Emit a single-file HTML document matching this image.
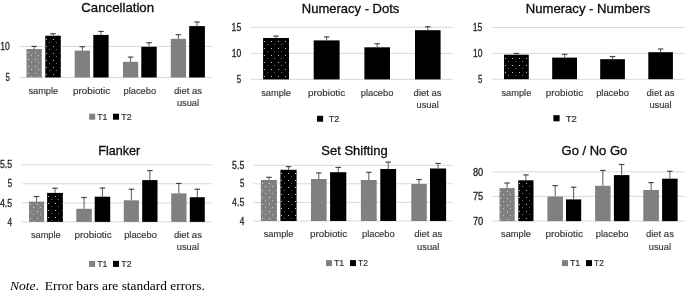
<!DOCTYPE html>
<html><head><meta charset="utf-8"><style>
html,body{margin:0;padding:0;background:#fff;}
body{width:685px;height:294px;overflow:hidden;font-family:"Liberation Sans",sans-serif;}
svg{display:block;will-change:transform;}
</style></head><body>
<svg width="685" height="294" viewBox="0 0 685 294">
<defs><pattern id="p1" patternUnits="userSpaceOnUse" width="7" height="7" x="28" y="52"><rect x="0" y="0" width="1" height="1" fill="#fff" fill-opacity="0.7"/><rect x="3" y="3" width="1" height="1" fill="#fff" fill-opacity="0.55"/></pattern><pattern id="p2" patternUnits="userSpaceOnUse" width="7" height="7" x="46" y="39"><rect x="0" y="0" width="1" height="1" fill="#fff" fill-opacity="0.75"/><rect x="3" y="3" width="1" height="1" fill="#fff" fill-opacity="0.4"/></pattern><pattern id="p3" patternUnits="userSpaceOnUse" width="7" height="7" x="264" y="41"><rect x="0" y="0" width="1" height="1" fill="#fff" fill-opacity="0.75"/><rect x="3" y="3" width="1" height="1" fill="#fff" fill-opacity="0.4"/></pattern><pattern id="p4" patternUnits="userSpaceOnUse" width="7" height="7" x="505" y="58"><rect x="0" y="0" width="1" height="1" fill="#fff" fill-opacity="0.75"/><rect x="3" y="3" width="1" height="1" fill="#fff" fill-opacity="0.4"/></pattern><pattern id="p5" patternUnits="userSpaceOnUse" width="7" height="7" x="30" y="204"><rect x="0" y="0" width="1" height="1" fill="#fff" fill-opacity="0.7"/><rect x="3" y="3" width="1" height="1" fill="#fff" fill-opacity="0.55"/></pattern><pattern id="p6" patternUnits="userSpaceOnUse" width="7" height="7" x="48" y="196"><rect x="0" y="0" width="1" height="1" fill="#fff" fill-opacity="0.75"/><rect x="3" y="3" width="1" height="1" fill="#fff" fill-opacity="0.4"/></pattern><pattern id="p7" patternUnits="userSpaceOnUse" width="7" height="7" x="262" y="183"><rect x="0" y="0" width="1" height="1" fill="#fff" fill-opacity="0.7"/><rect x="3" y="3" width="1" height="1" fill="#fff" fill-opacity="0.55"/></pattern><pattern id="p8" patternUnits="userSpaceOnUse" width="7" height="7" x="281" y="173"><rect x="0" y="0" width="1" height="1" fill="#fff" fill-opacity="0.75"/><rect x="3" y="3" width="1" height="1" fill="#fff" fill-opacity="0.4"/></pattern><pattern id="p9" patternUnits="userSpaceOnUse" width="7" height="7" x="500" y="191"><rect x="0" y="0" width="1" height="1" fill="#fff" fill-opacity="0.7"/><rect x="3" y="3" width="1" height="1" fill="#fff" fill-opacity="0.55"/></pattern><pattern id="p10" patternUnits="userSpaceOnUse" width="7" height="7" x="519" y="183"><rect x="0" y="0" width="1" height="1" fill="#fff" fill-opacity="0.75"/><rect x="3" y="3" width="1" height="1" fill="#fff" fill-opacity="0.4"/></pattern></defs>
<text x="117.7" y="12.2" font-size="12.4" text-anchor="middle" fill="#0d0d0d" font-family="Liberation Sans" textLength="72.8" lengthAdjust="spacingAndGlyphs" stroke="#0d0d0d" stroke-width="0.3">Cancellation</text>
<rect x="19.3" y="45.95" width="192.7" height="1" fill="#d9d9d9"/>
<text x="9.8" y="50.050000000000004" font-size="10.1" text-anchor="end" fill="#262626" font-family="Liberation Sans" textLength="9.5" lengthAdjust="spacingAndGlyphs" stroke="#262626" stroke-width="0.3">10</text>
<rect x="19.3" y="76.95" width="192.7" height="1" fill="#d9d9d9"/>
<text x="9.8" y="81.05" font-size="10.1" text-anchor="end" fill="#262626" font-family="Liberation Sans" textLength="4.4" lengthAdjust="spacingAndGlyphs" stroke="#262626" stroke-width="0.3">5</text>
<rect x="26.5" y="49.0" width="15.299999999999997" height="28.450000000000003" fill="#808080"/>
<rect x="27.0" y="49.5" width="14.299999999999997" height="27.450000000000003" fill="url(#p1)"/>
<rect x="33.65" y="46.0" width="1" height="3.0" fill="#595959"/>
<rect x="31.4" y="45.85" width="5.5" height="1.15" fill="#454545"/>
<rect x="45.3" y="35.7" width="15.5" height="41.75" fill="#000000"/>
<rect x="45.8" y="36.2" width="14.5" height="40.75" fill="url(#p2)"/>
<rect x="52.55" y="33.3" width="1" height="2.4000000000000057" fill="#595959"/>
<rect x="50.3" y="33.15" width="5.5" height="1.15" fill="#454545"/>
<rect x="74.7" y="50.6" width="15.299999999999997" height="26.85" fill="#808080"/>
<rect x="81.85" y="46.3" width="1" height="4.300000000000004" fill="#595959"/>
<rect x="79.6" y="46.15" width="5.5" height="1.15" fill="#454545"/>
<rect x="93.3" y="34.9" width="15.299999999999997" height="42.550000000000004" fill="#000000"/>
<rect x="100.44999999999999" y="31.0" width="1" height="3.8999999999999986" fill="#595959"/>
<rect x="98.19999999999999" y="30.85" width="5.5" height="1.15" fill="#454545"/>
<rect x="123.0" y="61.8" width="15.199999999999989" height="15.650000000000006" fill="#808080"/>
<rect x="130.1" y="56.7" width="1" height="5.099999999999994" fill="#595959"/>
<rect x="127.85" y="56.550000000000004" width="5.5" height="1.15" fill="#454545"/>
<rect x="141.3" y="46.8" width="15.399999999999977" height="30.650000000000006" fill="#000000"/>
<rect x="148.5" y="42.3" width="1" height="4.5" fill="#595959"/>
<rect x="146.25" y="42.15" width="5.5" height="1.15" fill="#454545"/>
<rect x="170.8" y="38.8" width="15.199999999999989" height="38.650000000000006" fill="#808080"/>
<rect x="177.9" y="34.3" width="1" height="4.5" fill="#595959"/>
<rect x="175.65" y="34.15" width="5.5" height="1.15" fill="#454545"/>
<rect x="189.2" y="26.1" width="15.700000000000017" height="51.35" fill="#000000"/>
<rect x="196.55" y="21.6" width="1" height="4.5" fill="#595959"/>
<rect x="194.3" y="21.450000000000003" width="5.5" height="1.15" fill="#454545"/>
<text x="43.3" y="93.6" font-size="9.8" text-anchor="middle" fill="#333333" font-family="Liberation Sans" textLength="29.8" lengthAdjust="spacingAndGlyphs" stroke="#333" stroke-width="0.15">sample</text>
<text x="91.6" y="93.6" font-size="9.8" text-anchor="middle" fill="#333333" font-family="Liberation Sans" textLength="37.3" lengthAdjust="spacingAndGlyphs" stroke="#333" stroke-width="0.15">probiotic</text>
<text x="139.8" y="93.6" font-size="9.8" text-anchor="middle" fill="#333333" font-family="Liberation Sans" textLength="32.7" lengthAdjust="spacingAndGlyphs" stroke="#333" stroke-width="0.15">placebo</text>
<text x="188.0" y="93.6" font-size="9.8" text-anchor="middle" fill="#333333" font-family="Liberation Sans" textLength="28.0" lengthAdjust="spacingAndGlyphs" stroke="#333" stroke-width="0.15">diet as</text>
<text x="188.0" y="105.69999999999999" font-size="9.8" text-anchor="middle" fill="#333333" font-family="Liberation Sans" textLength="22.2" lengthAdjust="spacingAndGlyphs" stroke="#333" stroke-width="0.15">usual</text>
<rect x="89.1" y="113.7" width="6.1000000000000085" height="6.0" fill="#808080"/>
<text x="97.25" y="119.9" font-size="9.7" text-anchor="start" fill="#333333" font-family="Liberation Sans" textLength="10.200000000000006" lengthAdjust="spacingAndGlyphs" stroke="#333" stroke-width="0.22">T1</text>
<rect x="113.0" y="113.7" width="6.0" height="6.0" fill="#000000"/>
<text x="121.35000000000001" y="119.9" font-size="9.7" text-anchor="start" fill="#333333" font-family="Liberation Sans" textLength="10.199999999999992" lengthAdjust="spacingAndGlyphs" stroke="#333" stroke-width="0.22">T2</text>
<text x="350.6" y="12.8" font-size="12.4" text-anchor="middle" fill="#0d0d0d" font-family="Liberation Sans" textLength="97.5" lengthAdjust="spacingAndGlyphs" stroke="#0d0d0d" stroke-width="0.3">Numeracy - Dots</text>
<rect x="250.8" y="26.8" width="202.09999999999997" height="1" fill="#d9d9d9"/>
<text x="241.20000000000002" y="30.900000000000002" font-size="10.1" text-anchor="end" fill="#262626" font-family="Liberation Sans" textLength="9.6" lengthAdjust="spacingAndGlyphs" stroke="#262626" stroke-width="0.3">15</text>
<rect x="250.8" y="52.85" width="202.09999999999997" height="1" fill="#d9d9d9"/>
<text x="241.20000000000002" y="56.95" font-size="10.1" text-anchor="end" fill="#262626" font-family="Liberation Sans" textLength="9.5" lengthAdjust="spacingAndGlyphs" stroke="#262626" stroke-width="0.3">10</text>
<rect x="250.8" y="78.9" width="202.09999999999997" height="1" fill="#d9d9d9"/>
<text x="241.20000000000002" y="83.0" font-size="10.1" text-anchor="end" fill="#262626" font-family="Liberation Sans" textLength="4.4" lengthAdjust="spacingAndGlyphs" stroke="#262626" stroke-width="0.3">5</text>
<rect x="263.1" y="38.0" width="25.899999999999977" height="41.400000000000006" fill="#000000"/>
<rect x="263.6" y="38.5" width="24.899999999999977" height="40.400000000000006" fill="url(#p3)"/>
<rect x="275.55" y="35.7" width="1" height="2.299999999999997" fill="#595959"/>
<rect x="273.3" y="35.550000000000004" width="5.5" height="1.15" fill="#454545"/>
<rect x="313.7" y="40.4" width="25.900000000000034" height="39.00000000000001" fill="#000000"/>
<rect x="326.15" y="36.5" width="1" height="3.8999999999999986" fill="#595959"/>
<rect x="323.9" y="36.35" width="5.5" height="1.15" fill="#454545"/>
<rect x="364.4" y="47.3" width="25.600000000000023" height="32.10000000000001" fill="#000000"/>
<rect x="376.7" y="43.3" width="1" height="4.0" fill="#595959"/>
<rect x="374.45" y="43.15" width="5.5" height="1.15" fill="#454545"/>
<rect x="415.0" y="30.2" width="25.600000000000023" height="49.2" fill="#000000"/>
<rect x="427.3" y="26.3" width="1" height="3.8999999999999986" fill="#595959"/>
<rect x="425.05" y="26.150000000000002" width="5.5" height="1.15" fill="#454545"/>
<text x="276.1" y="95.8" font-size="9.8" text-anchor="middle" fill="#333333" font-family="Liberation Sans" textLength="29.8" lengthAdjust="spacingAndGlyphs" stroke="#333" stroke-width="0.15">sample</text>
<text x="326.6" y="95.8" font-size="9.8" text-anchor="middle" fill="#333333" font-family="Liberation Sans" textLength="37.3" lengthAdjust="spacingAndGlyphs" stroke="#333" stroke-width="0.15">probiotic</text>
<text x="377.1" y="95.8" font-size="9.8" text-anchor="middle" fill="#333333" font-family="Liberation Sans" textLength="32.7" lengthAdjust="spacingAndGlyphs" stroke="#333" stroke-width="0.15">placebo</text>
<text x="427.6" y="95.8" font-size="9.8" text-anchor="middle" fill="#333333" font-family="Liberation Sans" textLength="28.0" lengthAdjust="spacingAndGlyphs" stroke="#333" stroke-width="0.15">diet as</text>
<text x="427.6" y="108.2" font-size="9.8" text-anchor="middle" fill="#333333" font-family="Liberation Sans" textLength="22.2" lengthAdjust="spacingAndGlyphs" stroke="#333" stroke-width="0.15">usual</text>
<rect x="317.0" y="115.8" width="6.100000000000023" height="5.900000000000006" fill="#000000"/>
<text x="328.65" y="121.9" font-size="9.7" text-anchor="start" fill="#333333" font-family="Liberation Sans" textLength="10.600000000000012" lengthAdjust="spacingAndGlyphs" stroke="#333" stroke-width="0.22">T2</text>
<text x="588.0" y="12.8" font-size="12.4" text-anchor="middle" fill="#0d0d0d" font-family="Liberation Sans" textLength="124.4" lengthAdjust="spacingAndGlyphs" stroke="#0d0d0d" stroke-width="0.3">Numeracy - Numbers</text>
<rect x="492.1" y="27.0" width="192.89999999999998" height="1" fill="#d9d9d9"/>
<text x="482.40000000000003" y="31.1" font-size="10.1" text-anchor="end" fill="#262626" font-family="Liberation Sans" textLength="9.6" lengthAdjust="spacingAndGlyphs" stroke="#262626" stroke-width="0.3">15</text>
<rect x="492.1" y="52.9" width="192.89999999999998" height="1" fill="#d9d9d9"/>
<text x="482.40000000000003" y="57.0" font-size="10.1" text-anchor="end" fill="#262626" font-family="Liberation Sans" textLength="9.5" lengthAdjust="spacingAndGlyphs" stroke="#262626" stroke-width="0.3">10</text>
<rect x="492.1" y="78.7" width="192.89999999999998" height="1" fill="#d9d9d9"/>
<text x="482.40000000000003" y="82.8" font-size="10.1" text-anchor="end" fill="#262626" font-family="Liberation Sans" textLength="4.4" lengthAdjust="spacingAndGlyphs" stroke="#262626" stroke-width="0.3">5</text>
<rect x="504.0" y="54.7" width="24.799999999999955" height="24.5" fill="#000000"/>
<rect x="504.5" y="55.2" width="23.799999999999955" height="23.5" fill="url(#p4)"/>
<rect x="515.9" y="53.0" width="1" height="1.7000000000000028" fill="#595959"/>
<rect x="513.65" y="52.85" width="5.5" height="1.15" fill="#454545"/>
<rect x="552.2" y="57.6" width="24.799999999999955" height="21.6" fill="#000000"/>
<rect x="564.1" y="53.9" width="1" height="3.700000000000003" fill="#595959"/>
<rect x="561.85" y="53.75" width="5.5" height="1.15" fill="#454545"/>
<rect x="600.2" y="59.2" width="24.699999999999932" height="20.0" fill="#000000"/>
<rect x="612.05" y="56.1" width="1" height="3.1000000000000014" fill="#595959"/>
<rect x="609.8" y="55.95" width="5.5" height="1.15" fill="#454545"/>
<rect x="648.3" y="52.2" width="24.600000000000023" height="27.0" fill="#000000"/>
<rect x="660.0999999999999" y="48.6" width="1" height="3.6000000000000014" fill="#595959"/>
<rect x="657.8499999999999" y="48.45" width="5.5" height="1.15" fill="#454545"/>
<text x="516.4" y="95.8" font-size="9.8" text-anchor="middle" fill="#333333" font-family="Liberation Sans" textLength="29.8" lengthAdjust="spacingAndGlyphs" stroke="#333" stroke-width="0.15">sample</text>
<text x="564.5" y="95.8" font-size="9.8" text-anchor="middle" fill="#333333" font-family="Liberation Sans" textLength="37.3" lengthAdjust="spacingAndGlyphs" stroke="#333" stroke-width="0.15">probiotic</text>
<text x="612.5" y="95.8" font-size="9.8" text-anchor="middle" fill="#333333" font-family="Liberation Sans" textLength="32.7" lengthAdjust="spacingAndGlyphs" stroke="#333" stroke-width="0.15">placebo</text>
<text x="660.5" y="95.8" font-size="9.8" text-anchor="middle" fill="#333333" font-family="Liberation Sans" textLength="28.0" lengthAdjust="spacingAndGlyphs" stroke="#333" stroke-width="0.15">diet as</text>
<text x="660.5" y="108.2" font-size="9.8" text-anchor="middle" fill="#333333" font-family="Liberation Sans" textLength="22.2" lengthAdjust="spacingAndGlyphs" stroke="#333" stroke-width="0.15">usual</text>
<rect x="553.4" y="115.2" width="6.2000000000000455" height="6.099999999999994" fill="#000000"/>
<text x="565.65" y="121.5" font-size="9.7" text-anchor="start" fill="#333333" font-family="Liberation Sans" textLength="11.099999999999955" lengthAdjust="spacingAndGlyphs" stroke="#333" stroke-width="0.22">T2</text>
<text x="119.3" y="154.5" font-size="12.4" text-anchor="middle" fill="#0d0d0d" font-family="Liberation Sans" textLength="42" lengthAdjust="spacingAndGlyphs" stroke="#0d0d0d" stroke-width="0.3">Flanker</text>
<rect x="22" y="164.3" width="190" height="1" fill="#d9d9d9"/>
<text x="12.100000000000001" y="168.4" font-size="10.1" text-anchor="end" fill="#262626" font-family="Liberation Sans" textLength="12.2" lengthAdjust="spacingAndGlyphs" stroke="#262626" stroke-width="0.3">5.5</text>
<rect x="22" y="183.3" width="190" height="1" fill="#d9d9d9"/>
<text x="12.100000000000001" y="187.4" font-size="10.1" text-anchor="end" fill="#262626" font-family="Liberation Sans" textLength="4.4" lengthAdjust="spacingAndGlyphs" stroke="#262626" stroke-width="0.3">5</text>
<rect x="22" y="202.4" width="190" height="1" fill="#d9d9d9"/>
<text x="12.100000000000001" y="206.5" font-size="10.1" text-anchor="end" fill="#262626" font-family="Liberation Sans" textLength="12.2" lengthAdjust="spacingAndGlyphs" stroke="#262626" stroke-width="0.3">4.5</text>
<rect x="22" y="221.4" width="190" height="1" fill="#d9d9d9"/>
<text x="12.100000000000001" y="225.5" font-size="10.1" text-anchor="end" fill="#262626" font-family="Liberation Sans" textLength="4.6" lengthAdjust="spacingAndGlyphs" stroke="#262626" stroke-width="0.3">4</text>
<rect x="29.0" y="201.6" width="15.100000000000001" height="20.30000000000001" fill="#808080"/>
<rect x="29.5" y="202.1" width="14.100000000000001" height="19.30000000000001" fill="url(#p5)"/>
<rect x="36.05" y="196.1" width="1" height="5.5" fill="#595959"/>
<rect x="33.8" y="195.95" width="5.5" height="1.15" fill="#454545"/>
<rect x="47.1" y="192.9" width="15.799999999999997" height="29.0" fill="#000000"/>
<rect x="47.6" y="193.4" width="14.799999999999997" height="28.0" fill="url(#p6)"/>
<rect x="54.5" y="187.8" width="1" height="5.099999999999994" fill="#595959"/>
<rect x="52.25" y="187.65" width="5.5" height="1.15" fill="#454545"/>
<rect x="76.3" y="208.8" width="15.5" height="13.099999999999994" fill="#808080"/>
<rect x="83.55" y="197.1" width="1" height="11.700000000000017" fill="#595959"/>
<rect x="81.3" y="196.95" width="5.5" height="1.15" fill="#454545"/>
<rect x="94.7" y="196.7" width="15.5" height="25.200000000000017" fill="#000000"/>
<rect x="101.95" y="187.6" width="1" height="9.099999999999994" fill="#595959"/>
<rect x="99.7" y="187.45" width="5.5" height="1.15" fill="#454545"/>
<rect x="123.8" y="200.3" width="15.100000000000009" height="21.599999999999994" fill="#808080"/>
<rect x="130.85" y="188.8" width="1" height="11.5" fill="#595959"/>
<rect x="128.6" y="188.65" width="5.5" height="1.15" fill="#454545"/>
<rect x="142.2" y="180.1" width="15.300000000000011" height="41.80000000000001" fill="#000000"/>
<rect x="149.35" y="170.2" width="1" height="9.900000000000006" fill="#595959"/>
<rect x="147.1" y="170.04999999999998" width="5.5" height="1.15" fill="#454545"/>
<rect x="171.2" y="193.4" width="15.300000000000011" height="28.5" fill="#808080"/>
<rect x="178.35" y="183.0" width="1" height="10.400000000000006" fill="#595959"/>
<rect x="176.1" y="182.85" width="5.5" height="1.15" fill="#454545"/>
<rect x="189.8" y="197.2" width="15.0" height="24.700000000000017" fill="#000000"/>
<rect x="196.8" y="188.8" width="1" height="8.399999999999977" fill="#595959"/>
<rect x="194.55" y="188.65" width="5.5" height="1.15" fill="#454545"/>
<text x="45.8" y="238.1" font-size="9.8" text-anchor="middle" fill="#333333" font-family="Liberation Sans" textLength="29.8" lengthAdjust="spacingAndGlyphs" stroke="#333" stroke-width="0.15">sample</text>
<text x="93.1" y="238.1" font-size="9.8" text-anchor="middle" fill="#333333" font-family="Liberation Sans" textLength="37.3" lengthAdjust="spacingAndGlyphs" stroke="#333" stroke-width="0.15">probiotic</text>
<text x="140.5" y="238.1" font-size="9.8" text-anchor="middle" fill="#333333" font-family="Liberation Sans" textLength="32.7" lengthAdjust="spacingAndGlyphs" stroke="#333" stroke-width="0.15">placebo</text>
<text x="187.9" y="238.1" font-size="9.8" text-anchor="middle" fill="#333333" font-family="Liberation Sans" textLength="28.0" lengthAdjust="spacingAndGlyphs" stroke="#333" stroke-width="0.15">diet as</text>
<text x="187.9" y="250.29999999999998" font-size="9.8" text-anchor="middle" fill="#333333" font-family="Liberation Sans" textLength="22.2" lengthAdjust="spacingAndGlyphs" stroke="#333" stroke-width="0.15">usual</text>
<rect x="89.1" y="260.9" width="6.1000000000000085" height="6.0" fill="#808080"/>
<text x="97.25" y="267.09999999999997" font-size="9.7" text-anchor="start" fill="#333333" font-family="Liberation Sans" textLength="10.200000000000006" lengthAdjust="spacingAndGlyphs" stroke="#333" stroke-width="0.22">T1</text>
<rect x="113.0" y="260.9" width="6.0" height="6.0" fill="#000000"/>
<text x="121.35000000000001" y="267.09999999999997" font-size="9.7" text-anchor="start" fill="#333333" font-family="Liberation Sans" textLength="10.199999999999992" lengthAdjust="spacingAndGlyphs" stroke="#333" stroke-width="0.22">T2</text>
<text x="354.5" y="155.1" font-size="12.4" text-anchor="middle" fill="#0d0d0d" font-family="Liberation Sans" textLength="66.3" lengthAdjust="spacingAndGlyphs" stroke="#0d0d0d" stroke-width="0.3">Set Shifting</text>
<rect x="253.8" y="164.8" width="199.09999999999997" height="1" fill="#d9d9d9"/>
<text x="244.3" y="168.9" font-size="10.1" text-anchor="end" fill="#262626" font-family="Liberation Sans" textLength="12.2" lengthAdjust="spacingAndGlyphs" stroke="#262626" stroke-width="0.3">5.5</text>
<rect x="253.8" y="183.3" width="199.09999999999997" height="1" fill="#d9d9d9"/>
<text x="244.3" y="187.4" font-size="10.1" text-anchor="end" fill="#262626" font-family="Liberation Sans" textLength="4.4" lengthAdjust="spacingAndGlyphs" stroke="#262626" stroke-width="0.3">5</text>
<rect x="253.8" y="201.9" width="199.09999999999997" height="1" fill="#d9d9d9"/>
<text x="244.3" y="206.0" font-size="10.1" text-anchor="end" fill="#262626" font-family="Liberation Sans" textLength="12.2" lengthAdjust="spacingAndGlyphs" stroke="#262626" stroke-width="0.3">4.5</text>
<rect x="253.8" y="220.5" width="199.09999999999997" height="1" fill="#d9d9d9"/>
<text x="244.3" y="224.6" font-size="10.1" text-anchor="end" fill="#262626" font-family="Liberation Sans" textLength="4.6" lengthAdjust="spacingAndGlyphs" stroke="#262626" stroke-width="0.3">4</text>
<rect x="260.9" y="180.0" width="16.100000000000023" height="41.0" fill="#808080"/>
<rect x="261.4" y="180.5" width="15.100000000000023" height="40.0" fill="url(#p7)"/>
<rect x="268.45" y="176.9" width="1" height="3.0999999999999943" fill="#595959"/>
<rect x="266.2" y="176.75" width="5.5" height="1.15" fill="#454545"/>
<rect x="280.4" y="169.8" width="16.200000000000045" height="51.19999999999999" fill="#000000"/>
<rect x="280.9" y="170.3" width="15.200000000000045" height="50.19999999999999" fill="url(#p8)"/>
<rect x="288.0" y="166.2" width="1" height="3.6000000000000227" fill="#595959"/>
<rect x="285.75" y="166.04999999999998" width="5.5" height="1.15" fill="#454545"/>
<rect x="311.0" y="179.0" width="15.600000000000023" height="42.0" fill="#808080"/>
<rect x="318.3" y="172.5" width="1" height="6.5" fill="#595959"/>
<rect x="316.05" y="172.35" width="5.5" height="1.15" fill="#454545"/>
<rect x="330.1" y="172.2" width="16.19999999999999" height="48.80000000000001" fill="#000000"/>
<rect x="337.70000000000005" y="167.0" width="1" height="5.199999999999989" fill="#595959"/>
<rect x="335.45000000000005" y="166.85" width="5.5" height="1.15" fill="#454545"/>
<rect x="360.9" y="180.0" width="15.800000000000011" height="41.0" fill="#808080"/>
<rect x="368.29999999999995" y="171.9" width="1" height="8.099999999999994" fill="#595959"/>
<rect x="366.04999999999995" y="171.75" width="5.5" height="1.15" fill="#454545"/>
<rect x="380.3" y="169.0" width="15.800000000000011" height="52.0" fill="#000000"/>
<rect x="387.70000000000005" y="161.7" width="1" height="7.300000000000011" fill="#595959"/>
<rect x="385.45000000000005" y="161.54999999999998" width="5.5" height="1.15" fill="#454545"/>
<rect x="411.3" y="184.0" width="15.5" height="37.0" fill="#808080"/>
<rect x="418.55" y="179.1" width="1" height="4.900000000000006" fill="#595959"/>
<rect x="416.3" y="178.95" width="5.5" height="1.15" fill="#454545"/>
<rect x="430.0" y="168.5" width="16.100000000000023" height="52.5" fill="#000000"/>
<rect x="437.55" y="163.0" width="1" height="5.5" fill="#595959"/>
<rect x="435.3" y="162.85" width="5.5" height="1.15" fill="#454545"/>
<text x="278.6" y="237.4" font-size="9.8" text-anchor="middle" fill="#333333" font-family="Liberation Sans" textLength="29.8" lengthAdjust="spacingAndGlyphs" stroke="#333" stroke-width="0.15">sample</text>
<text x="328.6" y="237.4" font-size="9.8" text-anchor="middle" fill="#333333" font-family="Liberation Sans" textLength="37.3" lengthAdjust="spacingAndGlyphs" stroke="#333" stroke-width="0.15">probiotic</text>
<text x="378.3" y="237.4" font-size="9.8" text-anchor="middle" fill="#333333" font-family="Liberation Sans" textLength="32.7" lengthAdjust="spacingAndGlyphs" stroke="#333" stroke-width="0.15">placebo</text>
<text x="428.2" y="237.4" font-size="9.8" text-anchor="middle" fill="#333333" font-family="Liberation Sans" textLength="28.0" lengthAdjust="spacingAndGlyphs" stroke="#333" stroke-width="0.15">diet as</text>
<text x="428.2" y="249.8" font-size="9.8" text-anchor="middle" fill="#333333" font-family="Liberation Sans" textLength="22.2" lengthAdjust="spacingAndGlyphs" stroke="#333" stroke-width="0.15">usual</text>
<rect x="326.0" y="260.1" width="6.0" height="6.0" fill="#808080"/>
<text x="333.95" y="266.3" font-size="9.7" text-anchor="start" fill="#333333" font-family="Liberation Sans" textLength="10.3" lengthAdjust="spacingAndGlyphs" stroke="#333" stroke-width="0.22">T1</text>
<rect x="350.0" y="260.1" width="6.0" height="6.0" fill="#000000"/>
<text x="358.04999999999995" y="266.3" font-size="9.7" text-anchor="start" fill="#333333" font-family="Liberation Sans" textLength="9.900000000000023" lengthAdjust="spacingAndGlyphs" stroke="#333" stroke-width="0.22">T2</text>
<text x="594.4" y="155.4" font-size="12.4" text-anchor="middle" fill="#0d0d0d" font-family="Liberation Sans" textLength="65.6" lengthAdjust="spacingAndGlyphs" stroke="#0d0d0d" stroke-width="0.3">Go / No Go</text>
<rect x="492.0" y="171.4" width="193.0" height="1" fill="#d9d9d9"/>
<text x="483.2" y="175.5" font-size="10.1" text-anchor="end" fill="#262626" font-family="Liberation Sans" textLength="10.3" lengthAdjust="spacingAndGlyphs" stroke="#262626" stroke-width="0.3">80</text>
<rect x="492.0" y="195.9" width="193.0" height="1" fill="#d9d9d9"/>
<text x="483.2" y="200.0" font-size="10.1" text-anchor="end" fill="#262626" font-family="Liberation Sans" textLength="10.3" lengthAdjust="spacingAndGlyphs" stroke="#262626" stroke-width="0.3">75</text>
<rect x="492.0" y="220.6" width="193.0" height="1" fill="#d9d9d9"/>
<text x="483.2" y="224.7" font-size="10.1" text-anchor="end" fill="#262626" font-family="Liberation Sans" textLength="10.3" lengthAdjust="spacingAndGlyphs" stroke="#262626" stroke-width="0.3">70</text>
<rect x="499.5" y="188.1" width="15.200000000000045" height="33.0" fill="#808080"/>
<rect x="500.0" y="188.6" width="14.200000000000045" height="32.0" fill="url(#p9)"/>
<rect x="506.6" y="182.6" width="1" height="5.5" fill="#595959"/>
<rect x="504.35" y="182.45" width="5.5" height="1.15" fill="#454545"/>
<rect x="518.3" y="180.3" width="15.200000000000045" height="40.79999999999998" fill="#000000"/>
<rect x="518.8" y="180.8" width="14.200000000000045" height="39.79999999999998" fill="url(#p10)"/>
<rect x="525.4" y="174.5" width="1" height="5.800000000000011" fill="#595959"/>
<rect x="523.15" y="174.35" width="5.5" height="1.15" fill="#454545"/>
<rect x="547.4" y="196.5" width="15.5" height="24.599999999999994" fill="#808080"/>
<rect x="554.65" y="185.2" width="1" height="11.300000000000011" fill="#595959"/>
<rect x="552.4" y="185.04999999999998" width="5.5" height="1.15" fill="#454545"/>
<rect x="566.0" y="199.4" width="15.200000000000045" height="21.69999999999999" fill="#000000"/>
<rect x="573.1" y="186.8" width="1" height="12.599999999999994" fill="#595959"/>
<rect x="570.85" y="186.65" width="5.5" height="1.15" fill="#454545"/>
<rect x="595.1" y="185.8" width="15.5" height="35.29999999999998" fill="#808080"/>
<rect x="602.35" y="170.0" width="1" height="15.800000000000011" fill="#595959"/>
<rect x="600.1" y="169.85" width="5.5" height="1.15" fill="#454545"/>
<rect x="613.9" y="175.1" width="15.5" height="46.0" fill="#000000"/>
<rect x="621.15" y="164.1" width="1" height="11.0" fill="#595959"/>
<rect x="618.9" y="163.95" width="5.5" height="1.15" fill="#454545"/>
<rect x="643.3" y="190.0" width="15.600000000000023" height="31.099999999999994" fill="#808080"/>
<rect x="650.5999999999999" y="182.2" width="1" height="7.800000000000011" fill="#595959"/>
<rect x="648.3499999999999" y="182.04999999999998" width="5.5" height="1.15" fill="#454545"/>
<rect x="662.1" y="178.7" width="15.5" height="42.400000000000006" fill="#000000"/>
<rect x="669.35" y="170.9" width="1" height="7.799999999999983" fill="#595959"/>
<rect x="667.1" y="170.75" width="5.5" height="1.15" fill="#454545"/>
<text x="516.0" y="237.4" font-size="9.8" text-anchor="middle" fill="#333333" font-family="Liberation Sans" textLength="29.8" lengthAdjust="spacingAndGlyphs" stroke="#333" stroke-width="0.15">sample</text>
<text x="564.2" y="237.4" font-size="9.8" text-anchor="middle" fill="#333333" font-family="Liberation Sans" textLength="37.3" lengthAdjust="spacingAndGlyphs" stroke="#333" stroke-width="0.15">probiotic</text>
<text x="612.2" y="237.4" font-size="9.8" text-anchor="middle" fill="#333333" font-family="Liberation Sans" textLength="32.7" lengthAdjust="spacingAndGlyphs" stroke="#333" stroke-width="0.15">placebo</text>
<text x="659.9" y="237.4" font-size="9.8" text-anchor="middle" fill="#333333" font-family="Liberation Sans" textLength="28.0" lengthAdjust="spacingAndGlyphs" stroke="#333" stroke-width="0.15">diet as</text>
<text x="659.9" y="249.8" font-size="9.8" text-anchor="middle" fill="#333333" font-family="Liberation Sans" textLength="22.2" lengthAdjust="spacingAndGlyphs" stroke="#333" stroke-width="0.15">usual</text>
<rect x="562.0" y="260.1" width="6.0" height="6.0" fill="#808080"/>
<text x="569.9499999999999" y="266.3" font-size="9.7" text-anchor="start" fill="#333333" font-family="Liberation Sans" textLength="10.3" lengthAdjust="spacingAndGlyphs" stroke="#333" stroke-width="0.22">T1</text>
<rect x="586.0" y="260.1" width="6.0" height="6.0" fill="#000000"/>
<text x="594.05" y="266.3" font-size="9.7" text-anchor="start" fill="#333333" font-family="Liberation Sans" textLength="9.8" lengthAdjust="spacingAndGlyphs" stroke="#333" stroke-width="0.22">T2</text>
<text x="10" y="290" font-size="12.2" font-family="Liberation Serif" fill="#000" font-style="italic" textLength="25.6" lengthAdjust="spacingAndGlyphs">Note</text>
<text x="35.7" y="290" font-size="12.2" font-family="Liberation Serif" fill="#000">.</text>
<text x="44.8" y="290" font-size="12.1" font-family="Liberation Serif" fill="#000" textLength="160.0" lengthAdjust="spacingAndGlyphs">Error bars are standard errors.</text>
</svg>
</body></html>
